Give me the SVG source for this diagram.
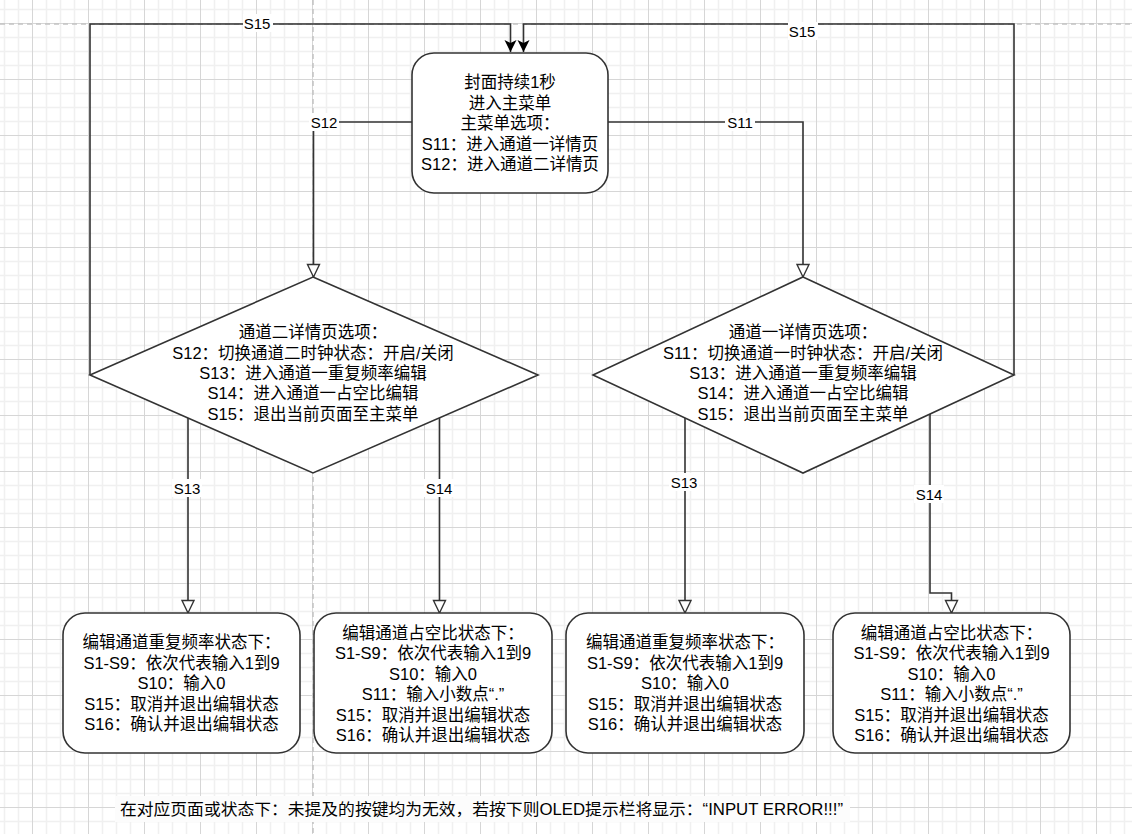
<svg xmlns="http://www.w3.org/2000/svg" width="1132" height="834" viewBox="0 0 1132 834">
<style>
.t{font-family:"Liberation Sans","Noto Sans CJK SC",sans-serif;font-size:16.5px;fill:#000;text-anchor:middle;dominant-baseline:central}
.lb{font-family:"Liberation Sans","Noto Sans CJK SC",sans-serif;font-size:15px;fill:#000;text-anchor:middle;dominant-baseline:central}
.node{fill:#fff;stroke:#333;stroke-width:1.6}
.edge{fill:none;stroke:#333;stroke-width:1.6}
.pg{fill:none;stroke:#c4c4c4;stroke-width:1.5;stroke-dasharray:5 4}
</style>
<defs>
<pattern id="grid" x="32" y="23" width="56" height="56" patternUnits="userSpaceOnUse">
<path d="M14.5,0V56M28.5,0V56M42.5,0V56M0,14.5H56M0,28.5H56M0,42.5H56" stroke="#f0f0f0" stroke-width="1.5"/>
<path d="M0.5,0V56M0,0.5H56" stroke="#d6d6d6" stroke-width="1"/>
</pattern>
<marker id="hollow" markerWidth="16" markerHeight="16" refX="14" refY="7" orient="auto" markerUnits="userSpaceOnUse">
<path d="M1.5,1 L14,7 L1.5,13 z" fill="#fff" stroke="#333" stroke-width="1.4"/>
</marker>
<marker id="filled" markerWidth="14" markerHeight="14" refX="12" refY="6" orient="auto" markerUnits="userSpaceOnUse">
<path d="M0,0 L12,6 L0,12 L3,6 z" fill="#000"/>
</marker>
</defs>
<rect x="0" y="0" width="1132" height="834" fill="#fff"/>
<rect x="0" y="0" width="1132" height="834" fill="url(#grid)"/>
<path class="pg" d="M0,24H1132M313,0V834"/>

<g id="connectors">
<path class="edge" d="M412,122H313.5V277" marker-end="url(#hollow)"/>
<path class="edge" d="M608,122H803V277" marker-end="url(#hollow)"/>
<path class="edge" d="M90,375V24H510.5V52" marker-end="url(#filled)"/>
<path class="edge" d="M1014,375V24H523.5V52" marker-end="url(#filled)"/>
<path class="edge" d="M188,418V613" marker-end="url(#hollow)"/>
<path class="edge" d="M439.5,417V613" marker-end="url(#hollow)"/>
<path class="edge" d="M685,417V613" marker-end="url(#hollow)"/>
<path class="edge" d="M930,414V593H951.5V613" marker-end="url(#hollow)"/>
<rect x="309" y="113" width="30" height="18" fill="#fff"/>
<text class="lb" x="324" y="122">S12</text>
<rect x="725" y="113" width="30" height="18" fill="#fff"/>
<text class="lb" x="740" y="122">S11</text>
<rect x="243" y="14" width="30" height="18" fill="#fff"/>
<text class="lb" x="257" y="23">S15</text>
<rect x="788" y="22" width="30" height="18" fill="#fff"/>
<text class="lb" x="802" y="31">S15</text>
<rect x="172" y="479" width="30" height="18" fill="#fff"/>
<text class="lb" x="187" y="488">S13</text>
<rect x="424" y="479" width="30" height="18" fill="#fff"/>
<text class="lb" x="439" y="488">S14</text>
<rect x="669" y="473" width="30" height="18" fill="#fff"/>
<text class="lb" x="684" y="482">S13</text>
<rect x="914" y="485" width="30" height="18" fill="#fff"/>
<text class="lb" x="929" y="494">S14</text>
</g>

<g id="main-menu">
<rect class="node" x="412" y="53" width="196" height="140" rx="22" ry="22"/>
<text class="t" x="510" y="82">封面持续1秒</text>
<text class="t" x="510" y="102.5">进入主菜单</text>
<text class="t" x="510" y="123">主菜单选项：</text>
<text class="t" x="510" y="143.5">S11：进入通道一详情页</text>
<text class="t" x="510" y="164">S12：进入通道二详情页</text>
</g>

<g id="ch2-detail">
<path class="node" d="M313,277L538,375L313,473L90,375z"/>
<text class="t" x="313" y="332">通道二详情页选项：</text>
<text class="t" x="313" y="352.5">S12：切换通道二时钟状态：开启/关闭</text>
<text class="t" x="313" y="373">S13：进入通道一重复频率编辑</text>
<text class="t" x="313" y="393">S14：进入通道一占空比编辑</text>
<text class="t" x="313" y="413.5">S15：退出当前页面至主菜单</text>
</g>

<g id="ch1-detail">
<path class="node" d="M803,277L1014,375L803,473L593,375z"/>
<text class="t" x="803" y="332">通道一详情页选项：</text>
<text class="t" x="803" y="352.5">S11：切换通道一时钟状态：开启/关闭</text>
<text class="t" x="803" y="373">S13：进入通道一重复频率编辑</text>
<text class="t" x="803" y="393">S14：进入通道一占空比编辑</text>
<text class="t" x="803" y="413.5">S15：退出当前页面至主菜单</text>
</g>

<g id="ch2-freq-edit">
<rect class="node" x="63" y="613" width="237" height="140" rx="22" ry="22"/>
<text class="t" x="181.5" y="642">编辑通道重复频率状态下：</text>
<text class="t" x="181.5" y="662.5">S1-S9：依次代表输入1到9</text>
<text class="t" x="181.5" y="683">S10：输入0</text>
<text class="t" x="181.5" y="703.5">S15：取消并退出编辑状态</text>
<text class="t" x="181.5" y="724">S16：确认并退出编辑状态</text>
</g>

<g id="ch2-duty-edit">
<rect class="node" x="314" y="613" width="238" height="140" rx="22" ry="22"/>
<text class="t" x="433" y="632.5">编辑通道占空比状态下：</text>
<text class="t" x="433" y="653">S1-S9：依次代表输入1到9</text>
<text class="t" x="433" y="673.5">S10：输入0</text>
<text class="t" x="433" y="694">S11：输入小数点“.”</text>
<text class="t" x="433" y="714.5">S15：取消并退出编辑状态</text>
<text class="t" x="433" y="735">S16：确认并退出编辑状态</text>
</g>

<g id="ch1-freq-edit">
<rect class="node" x="566" y="613" width="238" height="140" rx="22" ry="22"/>
<text class="t" x="685" y="642">编辑通道重复频率状态下：</text>
<text class="t" x="685" y="662.5">S1-S9：依次代表输入1到9</text>
<text class="t" x="685" y="683">S10：输入0</text>
<text class="t" x="685" y="703.5">S15：取消并退出编辑状态</text>
<text class="t" x="685" y="724">S16：确认并退出编辑状态</text>
</g>

<g id="ch1-duty-edit">
<rect class="node" x="833" y="613" width="237" height="140" rx="22" ry="22"/>
<text class="t" x="951.5" y="632.5">编辑通道占空比状态下：</text>
<text class="t" x="951.5" y="653">S1-S9：依次代表输入1到9</text>
<text class="t" x="951.5" y="673.5">S10：输入0</text>
<text class="t" x="951.5" y="694">S11：输入小数点“.”</text>
<text class="t" x="951.5" y="714.5">S15：取消并退出编辑状态</text>
<text class="t" x="951.5" y="735">S16：确认并退出编辑状态</text>
</g>

<g id="note">
<rect x="115" y="796" width="735" height="26" fill="#fcfcfc"/>
<text x="120" y="809" textLength="723" lengthAdjust="spacingAndGlyphs" style="font-family:'Liberation Sans','Noto Sans CJK SC',sans-serif;font-size:16px;fill:#000;dominant-baseline:central">在对应页面或状态下：未提及的按键均为无效，若按下则OLED提示栏将显示：“INPUT ERROR!!!”</text>
</g>
</svg>
